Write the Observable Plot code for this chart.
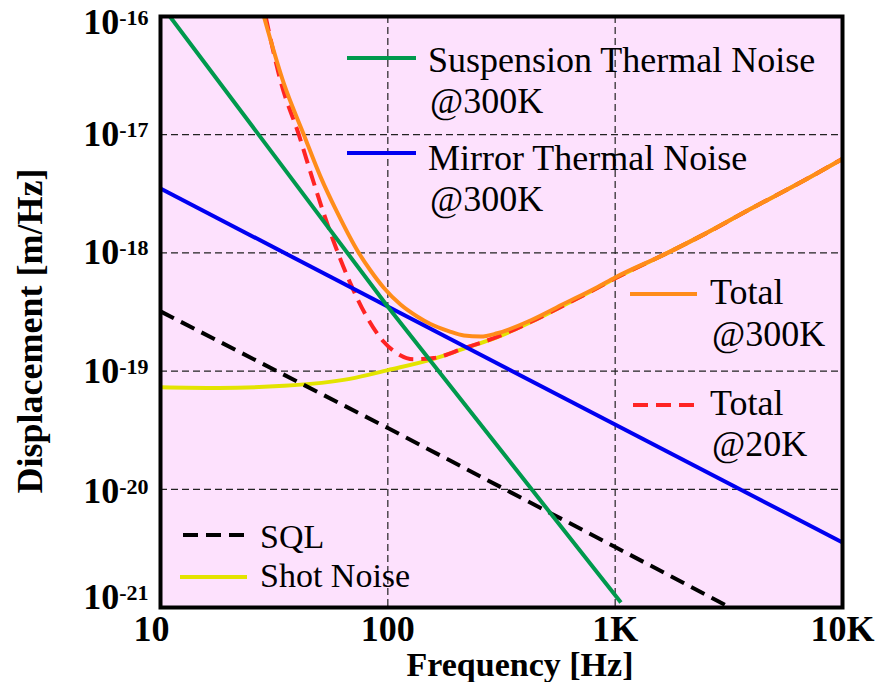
<!DOCTYPE html>
<html>
<head>
<meta charset="utf-8">
<script src="https://cdn.jsdelivr.net/npm/d3@7"></script>
<script src="https://cdn.jsdelivr.net/npm/@observablehq/plot@0.6"></script>
<style>
  html, body { margin: 0; padding: 0; background: #ffffff; }
  svg { display: block; }
</style>
</head>
<body>
<div id="chart"></div>
<script>
// ---- Axis ticks ----
const xTicks = [10, 100, 1000, 10000];
const xTickLabels = ["10", "100", "1K", "10K"];
const yTicks = [1e-16, 1e-17, 1e-18, 1e-19, 1e-20, 1e-21];
const yTickExponents = ["-16", "-17", "-18", "-19", "-20", "-21"];
const xGrid = [100, 1000];
const yGrid = [1e-17, 1e-18, 1e-19, 1e-20];

// ---- Series (frequency in Hz, displacement in m/√Hz) ----
const suspF = [11, 100, 1060];
const suspV = [1.0e-16, 3.5e-19, 1.1e-21];

const mirrorF = [10, 10000];
const mirrorV = [3.5e-18, 3.55e-21];

const sqlF = [10, 100, 1000, 3200];
const sqlV = [3.2e-19, 3.3e-20, 3.25e-21, 1.0e-21];

const shotF = [10, 18, 35, 68, 100, 159, 216, 303, 424, 595, 834, 1000, 1700, 2400, 3950, 6550, 10000];
const shotV = [7.3e-20, 7.2e-20, 7.5e-20, 8.6e-20, 1.02e-19, 1.27e-19, 1.55e-19, 1.94e-19, 2.59e-19, 3.6e-19, 5.05e-19, 6.1e-19, 1.0e-18, 1.4e-18, 2.36e-18, 3.96e-18, 6.25e-18];

const total300F = [28.5, 34.9, 42.7, 50.6, 59.9, 74.5, 83.9, 95.7, 113.7, 134.6, 154, 185, 216, 256, 303, 424, 595, 834, 1000, 1700, 2400, 3950, 6550, 10000];
const total300V = [1.0e-16, 2.7e-17, 1.0e-17, 4.4e-18, 2.2e-18, 1.0e-18, 7.1e-19, 5.1e-19, 3.66e-19, 2.9e-19, 2.5e-19, 2.18e-19, 2.0e-19, 1.96e-19, 2.09e-19, 2.68e-19, 3.71e-19, 5.13e-19, 6.2e-19, 1.0e-18, 1.4e-18, 2.36e-18, 3.96e-18, 6.25e-18];

const total20F = [29.0, 34.0, 40.6, 45.7, 50.6, 56.9, 61.9, 68.5, 81.1, 95.7, 110, 130, 159, 216, 303, 424, 595, 834, 1000, 1700, 2400, 3950, 6550, 10000];
const total20V = [1.0e-16, 2.7e-17, 1.0e-17, 4.8e-18, 2.6e-18, 1.35e-18, 8.8e-19, 5.5e-19, 2.84e-19, 1.78e-19, 1.41e-19, 1.26e-19, 1.29e-19, 1.56e-19, 1.95e-19, 2.6e-19, 3.6e-19, 5.05e-19, 6.1e-19, 1.0e-18, 1.4e-18, 2.36e-18, 3.96e-18, 6.25e-18];

const toRows = (F, V) => F.map((f, i) => ({f, v: V[i]}));

const C = {
  green: "#00994d",
  blue: "#0000f0",
  black: "#000000",
  yellow: "#e3e300",
  orange: "#ff8c1a",
  red: "#ff2424",
  bg: "#fde1fd"
};

const lineOpts = (stroke, extra = {}) => Object.assign({
  x: "f", y: "v", stroke, strokeWidth: 4, clip: true, strokeLinecap: "butt"
}, extra);

const plot = Plot.plot({
  width: 881,
  height: 682,
  marginLeft: 160,
  marginRight: 39,
  marginTop: 16,
  marginBottom: 75,
  style: {fontFamily: "'Liberation Serif', 'Times New Roman', serif", background: "#ffffff", overflow: "visible"},
  x: {type: "log", domain: [10, 10000]},
  y: {type: "log", domain: [1e-21, 1e-16]},
  marks: [
    Plot.frame({fill: C.bg, stroke: null}),
    Plot.ruleX(xGrid, {stroke: "#222", strokeWidth: 1.2, strokeDasharray: "7,4"}),
    Plot.ruleY(yGrid, {stroke: "#222", strokeWidth: 1.2, strokeDasharray: "7,4"}),
    Plot.line(toRows(shotF, shotV), lineOpts(C.yellow, {curve: "monotone-x"})),
    Plot.line(toRows(total20F, total20V), lineOpts(C.red, {curve: "monotone-x", strokeDasharray: "15,8"})),
    Plot.line(toRows(total300F, total300V), lineOpts(C.orange, {curve: "monotone-x"})),
    Plot.line(toRows(sqlF, sqlV), lineOpts(C.black, {strokeDasharray: "15,8"})),
    Plot.line(toRows(mirrorF, mirrorV), lineOpts(C.blue)),
    Plot.line(toRows(suspF, suspV), lineOpts(C.green)),
    Plot.frame({stroke: "#000", strokeWidth: 4}),
    Plot.axisX({ticks: xTicks, tickFormat: d => xTickLabels[xTicks.indexOf(d)], tickSize: 0, tickPadding: 8, fontSize: 36, label: null}),
    Plot.axisY({ticks: yTicks, tickFormat: () => "10", tickSize: 0, tickPadding: 12, fontSize: 36, label: null})
  ]
});

document.getElementById("chart").appendChild(plot);

const svg = d3.select(plot);

// bold tick labels with superscript exponents
svg.selectAll('g[aria-label="x-axis tick label"] text')
  .attr("font-weight", "bold")
  .attr("fill", "#000")
  .each(function(d, i) { if (i === 0) d3.select(this).attr("dx", -9); });

const yShift = [6, 0, 0, 0, 2, -10];
svg.selectAll('g[aria-label="y-axis tick label"] text').each(function(d, i) {
  const t = d3.select(this);
  t.text(null).attr("font-weight", "bold").attr("fill", "#000");
  t.append("tspan").text("10");
  t.append("tspan").attr("dy", -9).attr("font-size", 22).text(yTickExponents[i]);
  const tr = t.attr("transform") || "";
  t.attr("transform", tr + ` translate(0,${yShift[i]})`);
});

// axis titles
svg.append("text")
  .attr("x", 520).attr("y", 676)
  .attr("text-anchor", "middle")
  .attr("font-family", "'Liberation Serif', serif")
  .attr("font-weight", "bold").attr("font-size", 34).attr("fill", "#000")
  .text("Frequency [Hz]");

svg.append("text")
  .attr("transform", "translate(42,331) rotate(-90)")
  .attr("text-anchor", "middle")
  .attr("font-family", "'Liberation Serif', serif")
  .attr("font-weight", "bold").attr("font-size", 36).attr("fill", "#000")
  .text("Displacement [m/Hz]");

// legend
const legendItems = [
  {color: C.green, dash: null, x1: 347, x2: 416, y: 58, tx: 428, fs: 36, lines: ["Suspension Thermal Noise", "@300K"], ty: [72, 113]},
  {color: C.blue, dash: null, x1: 347, x2: 416, y: 153, tx: 428, fs: 36, lines: ["Mirror Thermal Noise", "@300K"], ty: [170, 211]},
  {color: C.orange, dash: null, x1: 630, x2: 697, y: 294, tx: 710, fs: 36, lines: ["Total", "@300K"], ty: [304, 346]},
  {color: C.red, dash: "15,8", x1: 633, x2: 697, y: 405, tx: 710, fs: 36, lines: ["Total", "@20K"], ty: [415, 456]},
  {color: C.black, dash: "15,8", x1: 183, x2: 247, y: 535, tx: 260, fs: 34, lines: ["SQL"], ty: [548]},
  {color: C.yellow, dash: null, x1: 180, x2: 247, y: 577, tx: 260, fs: 34, lines: ["Shot Noise"], ty: [587]}
];
const lg = svg.append("g")
  .attr("font-family", "'Liberation Serif', 'Times New Roman', serif")
  .attr("text-anchor", "start")
  .attr("fill", "#000");
legendItems.forEach(it => {
  lg.append("line")
    .attr("x1", it.x1).attr("x2", it.x2).attr("y1", it.y).attr("y2", it.y)
    .attr("stroke", it.color).attr("stroke-width", 4)
    .attr("stroke-dasharray", it.dash);
  it.lines.forEach((s, k) => {
    lg.append("text").attr("x", it.tx + (k > 0 ? 2 : 0)).attr("y", it.ty[k])
      .attr("font-size", it.fs).attr("text-anchor", "start").text(s);
  });
});
</script>
</body>
</html>
